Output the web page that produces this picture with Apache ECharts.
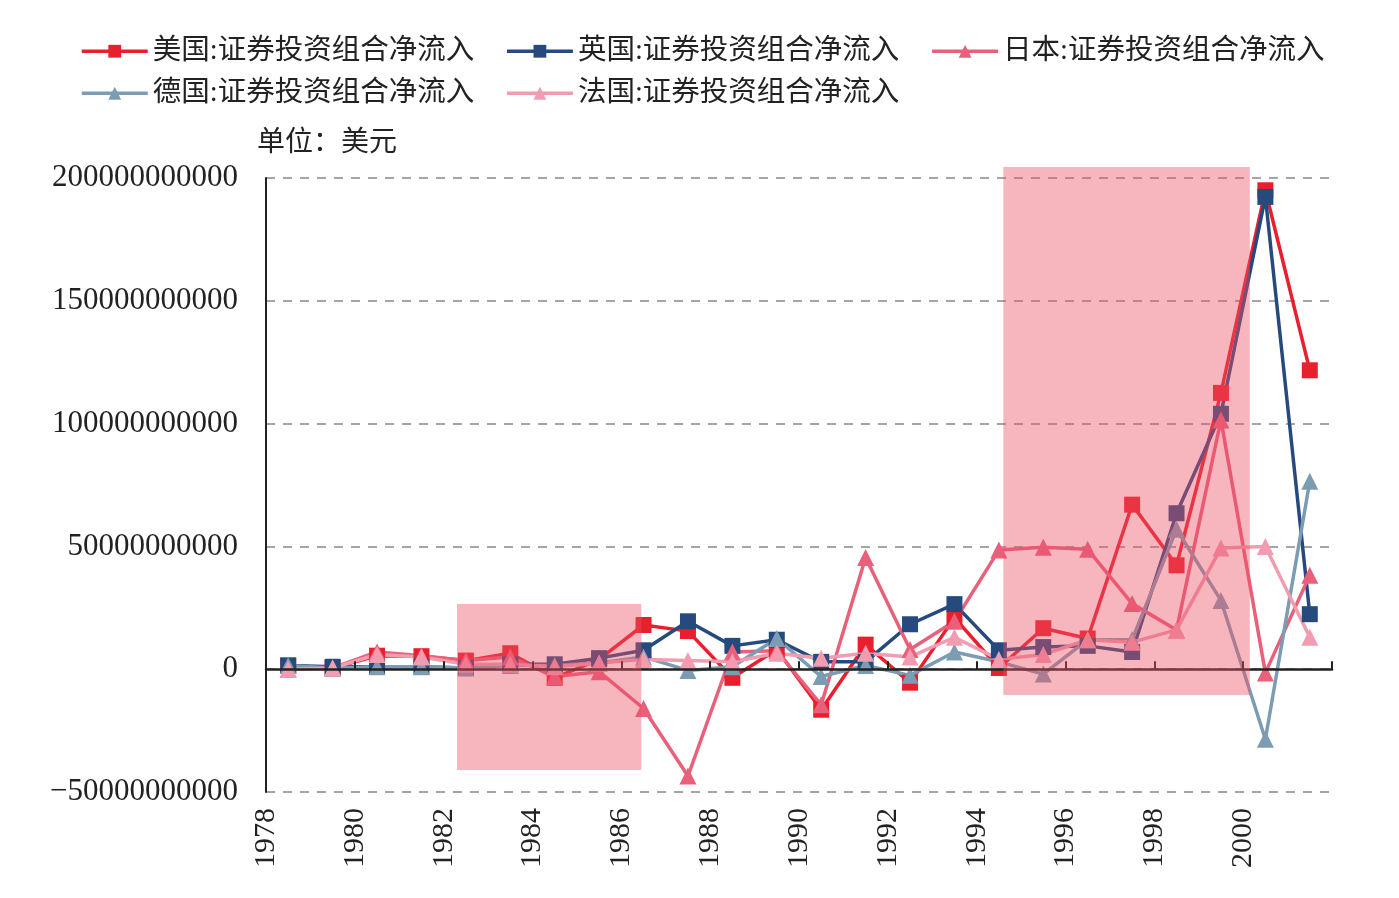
<!DOCTYPE html>
<html>
<head>
<meta charset="utf-8">
<title>证券投资组合净流入</title>
<script src="https://cdn.jsdelivr.net/npm/echarts@6/dist/echarts.min.js"></script>
<style>
  html, body { margin: 0; padding: 0; background: #fff; }
  #main { width: 1399px; height: 898px; }
</style>
</head>
<body>
<div id="main"></div>
<script>
// 年份
var years = ['1978', '1979', '1980', '1981', '1982', '1983', '1984', '1985', '1986', '1987', '1988', '1989',
  '1990', '1991', '1992', '1993', '1994', '1995', '1996', '1997', '1998', '1999', '2000', '2001'];

// 各国 证券投资组合净流入（美元）
var usFlow = [1.5e9, 0.5e9, 5.5e9, 5.3e9, 3.5e9, 6.5e9, -3.5e9, 4e9, 18e9, 15.5e9, -3.5e9, 8e9,
  -16.5e9, 10e9, -5.5e9, 21e9, 0.5e9, 16.7e9, 12.5e9, 67e9, 42.3e9, 112.5e9, 195e9, 121.7e9];
var ukFlow = [1.5e9, 1e9, 1e9, 1e9, 0.5e9, 2e9, 2e9, 4.5e9, 7.7e9, 19.5e9, 9.5e9, 12e9,
  3e9, 3e9, 18.3e9, 26.5e9, 7.7e9, 9e9, 9.5e9, 7e9, 63.5e9, 104e9, 192.3e9, 22.4e9];
var jpFlow = [0, 0.5e9, 7e9, 5.5e9, 3.5e9, 5e9, -3e9, -1e9, -16e9, -43.5e9, 7e9, 7.5e9,
  -14.5e9, 45.5e9, 8e9, 19.5e9, 48.5e9, 49.7e9, 48.8e9, 26.7e9, 16e9, 101.5e9, -1.5e9, 38.3e9];
var deFlow = [1.5e9, 0.5e9, 1e9, 1e9, 0.5e9, 1.5e9, 1.5e9, 2.5e9, 5e9, -0.5e9, 1e9, 12.5e9,
  -3e9, 1.5e9, -2.5e9, 7e9, 3e9, -2e9, 12e9, 12e9, 57e9, 28e9, -28.5e9, 76.5e9];
var frFlow = [0, 0.5e9, 6e9, 5e9, 2e9, 2e9, 1e9, 2.5e9, 4e9, 3.5e9, 3e9, 6.5e9,
  4.5e9, 6.5e9, 5e9, 13e9, 4e9, 6e9, 12e9, 11e9, 16e9, 49.3e9, 50e9, 13e9];

// 阴影区间：[起, 止, 下沿, 上沿]
var shadedPeriods = [
  [1982.3, 1986.45, -41e9, 26.5e9],
  [1994.6, 2000.15, -10.5e9, 204.5e9]
];

var seriesNames = ['美国:证券投资组合净流入', '英国:证券投资组合净流入', '日本:证券投资组合净流入',
  '德国:证券投资组合净流入', '法国:证券投资组合净流入'];

var FONT = "'Liberation Serif', 'Noto Sans CJK SC', serif";

function lineSeries(name, data, color, symbol) {
  return {
    name: name,
    type: 'line',
    xAxisIndex: 0,
    yAxisIndex: 0,
    data: data,
    symbol: symbol,
    symbolSize: symbol === 'rect' ? 16 : 17,
    showAllSymbol: true,
    itemStyle: { color: color },
    lineStyle: { color: color, width: 3.5 },
    z: 2
  };
}

var myChart = echarts.init(document.getElementById('main'));

var legendCommon = {
  left: 80,
  padding: 0,
  itemWidth: 66,
  itemHeight: 16,
  itemGap: 31,
  lineStyle: { width: 3.5 },
  textStyle: { fontFamily: FONT, fontSize: 28.5, color: '#222' }
};

var option = {
  backgroundColor: '#fff',
  animation: false,
  textStyle: { fontFamily: FONT },
  title: {
    text: '单位：美元',
    left: 257,
    top: 130,
    padding: 0,
    textStyle: { fontFamily: FONT, fontSize: 28, fontWeight: 'normal', color: '#222' }
  },
  legend: [
    Object.assign({ top: 37, data: seriesNames.slice(0, 3) }, legendCommon),
    Object.assign({ top: 79, data: seriesNames.slice(3) }, legendCommon)
  ],
  grid: {
    left: 266,
    right: 67,
    top: 178,
    bottom: 106,
    outerBoundsMode: 'none'
  },
  xAxis: [
    {
      // 数据用的类目轴（隐藏）
      type: 'category',
      data: years,
      boundaryGap: true,
      position: 'bottom',
      axisLine: { show: false, onZero: false },
      axisTick: { show: false },
      axisLabel: { show: false },
      splitLine: { show: false }
    },
    {
      // 零线 + 刻度
      type: 'value',
      min: 1978,
      max: 2002,
      interval: 2,
      position: 'bottom',
      z: 3,
      axisLine: { show: true, onZero: true, onZeroAxisIndex: 0, lineStyle: { color: '#222', width: 2.5 } },
      axisTick: { show: true, inside: true, length: 8, lineStyle: { color: '#222', width: 2 } },
      axisLabel: { show: false },
      splitLine: { show: false }
    },
    {
      // 底部年份标签
      type: 'value',
      min: 1978,
      max: 2002,
      interval: 2,
      position: 'bottom',
      axisLine: { show: false, onZero: false },
      axisTick: { show: false },
      splitLine: { show: false },
      axisLabel: {
        rotate: 90,
        margin: 16,
        showMaxLabel: false,
        fontFamily: FONT,
        fontSize: 30,
        color: '#222',
        formatter: function (v) { return String(v); }
      }
    }
  ],
  yAxis: {
    type: 'value',
    min: -50e9,
    max: 200e9,
    interval: 50e9,
    axisLine: { show: true, onZero: false, lineStyle: { color: '#222', width: 2 } },
    axisTick: { show: false },
    axisLabel: {
      margin: 28,
      fontFamily: FONT,
      fontSize: 31,
      color: '#222',
      padding: [8, 0, 0, 0],
      formatter: function (v) {
        return v < 0 ? '\u2212' + Math.abs(v) : String(v);
      }
    },
    splitLine: { show: true, lineStyle: { color: '#888', width: 1.5, type: [9, 8] } }
  },
  series: [
    lineSeries(seriesNames[0], usFlow, '#e8202e', 'rect'),
    lineSeries(seriesNames[1], ukFlow, '#264a7e', 'rect'),
    lineSeries(seriesNames[2], jpFlow, '#e8607a', 'triangle'),
    lineSeries(seriesNames[3], deFlow, '#7c9cb4', 'triangle'),
    lineSeries(seriesNames[4], frFlow, '#f29cb2', 'triangle'),
    {
      // 半透明阴影，盖在折线上
      type: 'custom',
      name: 'shade',
      xAxisIndex: 1,
      yAxisIndex: 0,
      silent: true,
      clip: false,
      z: 10,
      encode: { x: [0, 1], y: [2, 3] },
      data: shadedPeriods,
      renderItem: function (params, api) {
        var a = api.coord([api.value(0), api.value(3)]);
        var b = api.coord([api.value(1), api.value(2)]);
        return {
          type: 'rect',
          shape: { x: a[0], y: a[1], width: b[0] - a[0], height: b[1] - a[1] },
          style: { fill: 'rgba(235,80,100,0.42)' }
        };
      }
    }
  ]
};

myChart.setOption(option);
</script>
</body>
</html>
